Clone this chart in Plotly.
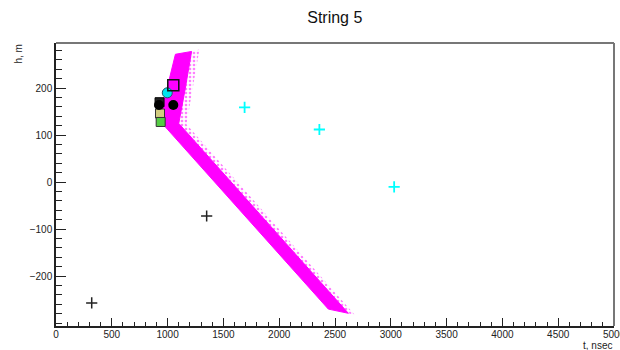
import plotly.graph_objects as go

# Predicted hit-time band (outline of the V-shaped region, t in nsec, h in m)
band_t = [1070, 1215, 1156, 1100, 2620, 2440, 925, 1070]
band_h = [272, 278, 196, 125, -279, -270, 132, 272]

# Sparse outer fringe of the band
fringe_t = [1215, 1285, 1169, 2680, 2620, 1100, 1156, 1215]
fringe_h = [278, 282, 123, -283, -279, 125, 196, 278]

# Isolated hits
black_cross_t = [320, 1350]
black_cross_h = [-257, -72]
cyan_cross_t = [1690, 2360, 3030]
cyan_cross_h = [159, 112, -10]

# Hits near the apex
black_dot_t = [923, 1051]
black_dot_h = [164, 164]
black_sq_t = [928]
black_sq_h = [170]
khaki_sq_t = [932]
khaki_sq_h = [146]
green_sq_t = [938]
green_sq_h = [128]
cyan_dot_t = [997]
cyan_dot_h = [190]
magenta_dot_t = [1051]
magenta_dot_h = [206]

x_ticks = [0, 500, 1000, 1500, 2000, 2500, 3000, 3500, 4000, 4500, 5000]
y_ticks = [-200, -100, 0, 100, 200]

fig = go.Figure()

fig.add_trace(go.Scatter(
    x=fringe_t, y=fringe_h, mode="none", fill="toself",
    fillcolor="rgba(255,255,255,0)",
    fillpattern=dict(shape=".", fgcolor="#ff00ff", bgcolor="white",
                     size=4, solidity=0.35),
    hoverinfo="skip"))
fig.add_trace(go.Scatter(
    x=band_t, y=band_h, mode="lines", fill="toself",
    fillcolor="#ff00ff", line=dict(color="#ff00ff", width=1),
    hoverinfo="skip"))

fig.add_trace(go.Scatter(
    x=black_cross_t, y=black_cross_h, mode="markers",
    marker=dict(symbol="cross-thin", size=8, color="#222222",
                line=dict(color="#222222", width=1.5))))
fig.add_trace(go.Scatter(
    x=cyan_cross_t, y=cyan_cross_h, mode="markers",
    marker=dict(symbol="cross-thin", size=8, color="#00ffff",
                line=dict(color="#00ffff", width=1.8))))

fig.add_trace(go.Scatter(
    x=khaki_sq_t, y=khaki_sq_h, mode="markers",
    marker=dict(symbol="square", size=9, color="#d2cc80",
                line=dict(color="#333333", width=1))))
fig.add_trace(go.Scatter(
    x=green_sq_t, y=green_sq_h, mode="markers",
    marker=dict(symbol="square", size=9, color="#55cc44",
                line=dict(color="#333333", width=1))))
fig.add_trace(go.Scatter(
    x=black_sq_t, y=black_sq_h, mode="markers",
    marker=dict(symbol="square", size=9, color="#222222",
                line=dict(color="#000000", width=1))))
fig.add_trace(go.Scatter(
    x=black_dot_t, y=black_dot_h, mode="markers",
    marker=dict(symbol="circle", size=10, color="#000000")))
fig.add_trace(go.Scatter(
    x=cyan_dot_t, y=cyan_dot_h, mode="markers",
    marker=dict(symbol="circle", size=10, color="#00e5ee",
                line=dict(color="#225566", width=1))))
fig.add_trace(go.Scatter(
    x=magenta_dot_t, y=magenta_dot_h, mode="markers",
    marker=dict(symbol="square-open", size=11, color="#111111",
                line=dict(color="#111111", width=1.5))))
fig.add_trace(go.Scatter(
    x=magenta_dot_t, y=magenta_dot_h, mode="markers",
    marker=dict(symbol="circle", size=8, color="#ff00ff")))

axis_font = dict(family="Liberation Sans, Arial, sans-serif", size=10,
                 color="#222222")

fig.update_layout(
    width=620, height=350,
    margin=dict(l=56, r=6, t=43, b=24, autoexpand=False),
    paper_bgcolor="white", plot_bgcolor="white",
    showlegend=False,
    font=dict(family="Liberation Sans, Arial, sans-serif"),
    title=dict(text="String 5", x=0.54, xanchor="center", y=0.95,
               yanchor="middle",
               font=dict(size=16, color="#111111")),
    xaxis=dict(range=[0, 5000], tickvals=x_ticks,
               ticktext=[str(v) for v in x_ticks],
               ticks="inside", ticklen=8, tickwidth=1, tickcolor="#222222",
               minor=dict(dtick=100, ticks="inside", ticklen=4,
                          tickcolor="#222222"),
               showline=True, linecolor="#222222", linewidth=1.5,
               showgrid=False, zeroline=False, tickfont=axis_font,
               automargin=False,
               ticklabeloverflow="allow", ticklabelstandoff=-2),
    yaxis=dict(range=[-306, 296], tickvals=y_ticks,
               ticktext=["\u2212200", "\u2212100", "0", "100", "200"],
               ticks="inside", ticklen=10, tickwidth=1, tickcolor="#222222",
               minor=dict(dtick=20, ticks="inside", ticklen=6,
                          tickcolor="#222222"),
               showline=True, linecolor="#222222", linewidth=1.5,
               showgrid=False, zeroline=False, tickfont=axis_font,
               automargin=False),
    shapes=[
        dict(type="line", xref="paper", yref="paper", x0=0, x1=1, y0=1, y1=1,
             line=dict(color="#777777", width=2)),
        dict(type="line", xref="paper", yref="paper", x0=1, x1=1, y0=0, y1=1,
             line=dict(color="#777777", width=2)),
    ],
    annotations=[
        dict(text="t, nsec", xref="paper", yref="paper", x=1, y=0,
             xanchor="right", yanchor="top", yshift=-12, showarrow=False,
             font=dict(size=10, color="#222222")),
        dict(text="h, m", xref="paper", yref="paper", x=0, y=1,
             xanchor="center", yanchor="top", xshift=-38, showarrow=False,
             textangle=-90, font=dict(size=10, color="#222222")),
    ],
)

fig.write_html("out.html")
